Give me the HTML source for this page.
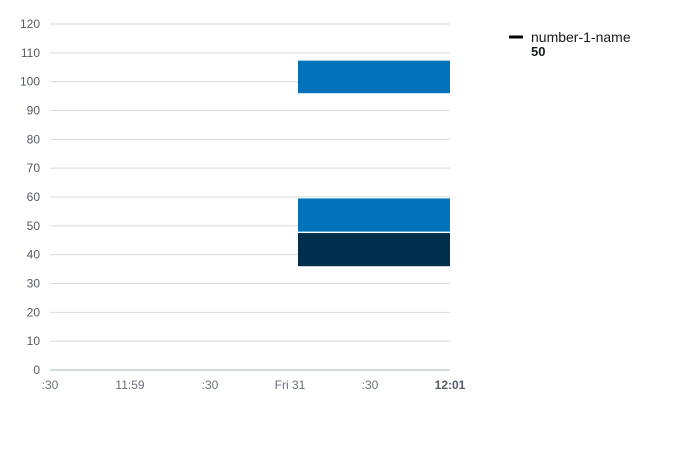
<!DOCTYPE html>
<html><head><meta charset="utf-8"><style>
body{margin:0;background:#fff;font-family:"Liberation Sans","DejaVu Sans",sans-serif;}
svg text{font-family:"Liberation Sans","DejaVu Sans",sans-serif;}
</style></head><body>
<svg id="chart" width="700" height="450" xmlns="http://www.w3.org/2000/svg"></svg>
<script>
const yTicks=[0,10,20,30,40,50,60,70,80,90,100,110,120];
const xTickLabels=[":30","11:59",":30","Fri 31",":30","12:01"];
const barStarts=[3.1,3.1,3.1];
const barEnds=[5,5,5];
const barLows=[36,48,96];
const barHighs=[47.5,59.5,107.3];
const barColors=["#002f4b","#0073bb","#0073bb"];
const svg=document.getElementById('chart');
const NS="http://www.w3.org/2000/svg";
const x0=50,x1=450,yb=370,yt=24;
const X=v=>x0+(x1-x0)*v/5;
const Y=v=>yb-(yb-yt)*v/120;
function mk(t,a,txt){const e=document.createElementNS(NS,t);for(const k in a)e.setAttribute(k,a[k]);if(txt!==undefined)e.textContent=txt;svg.appendChild(e);return e;}
yTicks.forEach(v=>{
 const l=mk('line',{x1:x0,x2:x1,y1:Y(v),y2:Y(v),stroke:v===0?'#aab7b8':'#d5dbdb','stroke-width':1});
 
 
 const t=mk('text',{x:40,y:Y(v)+4,'text-anchor':'end','font-size':12,fill:'#545b64'},String(v));
 
 
});
xTickLabels.forEach((s,i)=>{
 const last=i===xTickLabels.length-1;
 const t=mk('text',{x:X(i),y:389,'text-anchor':'middle','font-size':12,fill:last?'#545b64':'#687078','font-weight':last?'bold':'normal'},s);
 
 
});
barLows.forEach((lo,i)=>{
 const r=mk('rect',{x:X(barStarts[i]),y:Y(barHighs[i]),width:X(barEnds[i])-X(barStarts[i]),height:Y(lo)-Y(barHighs[i]),fill:barColors[i]});
 
 
});
const lg=mk('line',{x1:509,x2:523,y1:37,y2:37,stroke:'#000','stroke-width':3});


const lt=mk('text',{x:531,y:42,'font-size':14,fill:'#16191f'},'number-1-name');


const lv=mk('text',{x:531,y:56,'font-size':13,'font-weight':'bold',fill:'#16191f'},'50');


</script>
</body></html>
